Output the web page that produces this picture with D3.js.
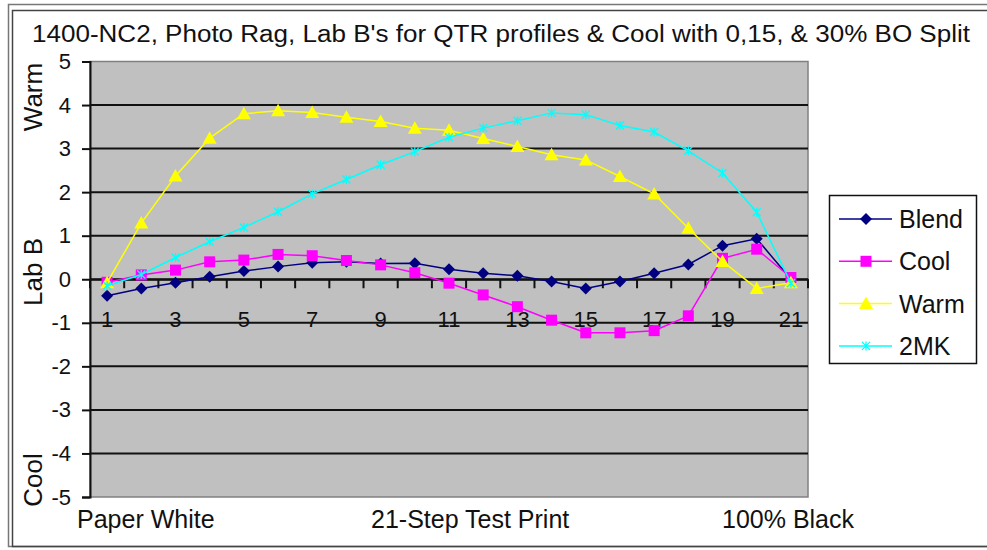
<!DOCTYPE html>
<html>
<head>
<meta charset="utf-8">
<script src="https://cdn.jsdelivr.net/npm/d3@7"></script>
<style>
  body { margin: 0; background: #fff; }
  svg { display: block; font-family: "Liberation Sans", Arial, sans-serif; }
</style>
</head>
<body>
<svg id="chart" width="987" height="550"></svg>
<script>
/* global d3 */

// chart values
const title = "1400-NC2, Photo Rag, Lab B's for QTR profiles & Cool with 0,15, & 30% BO Split"
const steps = [1, 2, 3, 4, 5, 6, 7, 8, 9, 10, 11, 12, 13, 14, 15, 16, 17, 18, 19, 20, 21]
const stepLabels = [1, 3, 5, 7, 9, 11, 13, 15, 17, 19, 21]
const yTicks = [5, 4, 3, 2, 1, 0, -1, -2, -3, -4, -5]
const seriesNames = ['Blend', 'Cool', 'Warm', '2MK']
const blend = [-0.38, -0.21, -0.08, 0.06, 0.19, 0.29, 0.38, 0.40, 0.36, 0.37, 0.23, 0.14, 0.08, -0.05, -0.21, -0.05, 0.14, 0.34, 0.77, 0.93, 0.0]
const cool = [-0.07, 0.10, 0.21, 0.40, 0.44, 0.57, 0.54, 0.43, 0.33, 0.15, -0.09, -0.36, -0.63, -0.94, -1.23, -1.23, -1.18, -0.84, 0.48, 0.69, 0.04]
const warm = [-0.08, 1.29, 2.37, 3.24, 3.80, 3.87, 3.83, 3.72, 3.62, 3.47, 3.42, 3.23, 3.05, 2.86, 2.74, 2.36, 1.96, 1.17, 0.41, -0.21, -0.08]
const mk2 = [-0.15, 0.11, 0.50, 0.86, 1.19, 1.55, 1.96, 2.29, 2.63, 2.93, 3.26, 3.47, 3.64, 3.82, 3.78, 3.53, 3.38, 2.95, 2.44, 1.54, -0.09]
const xTitles = ['Paper White', '21-Step Test Print', '100% Black']
const yTitles = ['Warm', 'Lab B', 'Cool']

const colors = ['#000080', '#ff00ff', '#ffff00', '#00ffff']
const markers = ['diamond', 'square', 'triangle', 'star']
const values = [blend, cool, warm, mk2]

const svg = d3.select('#chart')
const plot = { left: 90, right: 808, top: 61.5, bottom: 497 }
const textColor = '#111'

const x = d3.scaleBand().domain(steps).range([plot.left, plot.right])
const y = d3.scaleLinear().domain([-5, 5]).range([plot.bottom, plot.top])
const cx = (d) => x(d) + x.bandwidth() / 2

// outer frame
svg.append('rect').attr('x', 8.5).attr('y', 4.5).attr('width', 1000).attr('height', 542)
  .attr('fill', 'none').attr('stroke', '#777').attr('stroke-width', 1.5)
svg.append('rect').attr('x', 12.5).attr('y', 10.5).attr('width', 1000).attr('height', 536)
  .attr('fill', 'none').attr('stroke', '#444').attr('stroke-width', 1.5)

// title
svg.append('text').attr('x', 32).attr('y', 42)
  .attr('font-size', 23).attr('fill', textColor)
  .attr('textLength', 938).attr('lengthAdjust', 'spacingAndGlyphs')
  .text(title)

// plot background
svg.append('rect')
  .attr('x', plot.left).attr('y', plot.top)
  .attr('width', plot.right - plot.left).attr('height', plot.bottom - plot.top)
  .attr('fill', '#c0c0c0').attr('stroke', '#808080').attr('stroke-width', 1.5)

// gridlines
svg.append('g').selectAll('line')
  .data(yTicks.filter((d) => d > -5 && d < 5))
  .join('line')
  .attr('x1', plot.left).attr('x2', plot.right)
  .attr('y1', (d) => y(d)).attr('y2', (d) => y(d))
  .attr('stroke', '#111').attr('stroke-width', 2)

// y axis
const yAxis = svg.append('g')
  .attr('transform', `translate(${plot.left},0)`)
  .call(d3.axisLeft(y).tickValues(yTicks).tickSize(8).tickPadding(11).tickFormat((d) => `${d}`))
yAxis.select('.domain').attr('stroke', '#111').attr('stroke-width', 2)
yAxis.selectAll('.tick line').attr('stroke', '#111').attr('stroke-width', 2)
yAxis.selectAll('.tick text').attr('font-size', 22).attr('font-family', null).attr('fill', textColor)

// x axis crossing at zero: ticks on category boundaries, labels on odd steps
const x0 = y(0)
const bounds = steps.map((d) => x(d)).concat([plot.right])
svg.append('g').selectAll('line')
  .data(bounds)
  .join('line')
  .attr('x1', (d) => d).attr('x2', (d) => d)
  .attr('y1', x0).attr('y2', x0 + 9)
  .attr('stroke', '#111').attr('stroke-width', 2)
const xAxis = svg.append('g')
  .attr('transform', `translate(0,${x0})`)
  .call(d3.axisBottom(x).tickValues(stepLabels).tickSize(0).tickPadding(32))
xAxis.select('.domain').attr('stroke', '#111').attr('stroke-width', 2)
xAxis.selectAll('.tick text').attr('font-size', 22).attr('font-family', null).attr('fill', textColor)

// marker shapes
const markerPath = (type) => {
  if (type === 'diamond') return 'M0,-6L6,0L0,6L-6,0Z'
  if (type === 'square') return 'M-5.5,-5.5H5.5V5.5H-5.5Z'
  if (type === 'triangle') return 'M0,-7L7,5.5L-7,5.5Z'
  return 'M-4,-4L4,4M-4,4L4,-4M0,-4.5V4.5'
}

const line = d3.line()
  .x((d, i) => cx(steps[i]))
  .y((d) => y(d))

values.forEach((data, s) => {
  const g = svg.append('g')
  g.append('path')
    .attr('d', line(data))
    .attr('fill', 'none')
    .attr('stroke', colors[s])
    .attr('stroke-width', 1.5)
  g.selectAll('path.mark')
    .data(data)
    .join('path')
    .attr('class', 'mark')
    .attr('transform', (d, i) => `translate(${cx(steps[i])},${y(d)})`)
    .attr('d', markerPath(markers[s]))
    .attr('fill', markers[s] === 'star' ? 'none' : colors[s])
    .attr('stroke', colors[s])
    .attr('stroke-width', markers[s] === 'star' ? 1.3 : 0)
})

// axis titles
svg.append('g').selectAll('text')
  .data(xTitles)
  .join('text')
  .attr('x', (d, i) => [77, 371, 722][i])
  .attr('y', 528)
  .attr('font-size', 25)
  .attr('fill', textColor)
  .text((d) => d)

svg.append('g').selectAll('text')
  .data(yTitles)
  .join('text')
  .attr('transform', (d, i) => `translate(42,${[97, 272, 480][i]}) rotate(-90)`)
  .attr('text-anchor', 'middle')
  .attr('font-size', 26)
  .attr('fill', textColor)
  .text((d) => d)

// legend
const legend = svg.append('g')
legend.append('rect')
  .attr('x', 829.5).attr('y', 195.5).attr('width', 147).attr('height', 168)
  .attr('fill', '#fff').attr('stroke', '#111').attr('stroke-width', 1.5)
const rows = legend.selectAll('g.row')
  .data(seriesNames)
  .join('g')
  .attr('class', 'row')
  .attr('transform', (d, i) => `translate(0,${219 + i * 42.3})`)
rows.append('line')
  .attr('x1', 839).attr('x2', 892)
  .attr('stroke', (d, i) => colors[i]).attr('stroke-width', 1.5)
rows.append('path')
  .attr('transform', 'translate(866,0)')
  .attr('d', (d, i) => markerPath(markers[i]))
  .attr('fill', (d, i) => markers[i] === 'star' ? 'none' : colors[i])
  .attr('stroke', (d, i) => colors[i])
  .attr('stroke-width', (d, i) => markers[i] === 'star' ? 1.3 : 0)
rows.append('text')
  .attr('x', 899).attr('y', 9)
  .attr('font-size', 25)
  .attr('fill', textColor)
  .text((d) => d)
</script>
</body>
</html>
